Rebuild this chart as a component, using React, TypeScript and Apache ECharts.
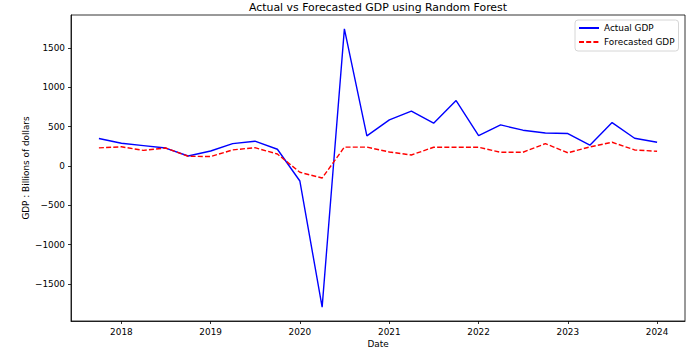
import React, { useEffect, useRef } from "react";
import * as echarts from "echarts";

const dates = [
  "2017-10-01",
  "2018-01-01", "2018-04-01", "2018-07-01", "2018-10-01",
  "2019-01-01", "2019-04-01", "2019-07-01", "2019-10-01",
  "2020-01-01", "2020-04-01", "2020-07-01", "2020-10-01",
  "2021-01-01", "2021-04-01", "2021-07-01", "2021-10-01",
  "2022-01-01", "2022-04-01", "2022-07-01", "2022-10-01",
  "2023-01-01", "2023-04-01", "2023-07-01", "2023-10-01",
  "2024-01-01",
];

const actualGDP = [
  350, 289, 259, 228, 127, 191, 284, 315, 213, -191, -1793, 1742, 382,
  586, 697, 544, 832, 386, 522, 455, 420, 412, 264, 552, 353, 302,
];

const forecastGDP = [
  230, 244, 198, 229, 124, 120, 204, 233, 152, -80, -153, 240, 240,
  178, 140, 238, 238, 238, 174, 174, 284, 168, 242, 302, 204, 187,
];

const yearTicks = ["2018-01-01", "2019-01-01", "2020-01-01", "2021-01-01", "2022-01-01", "2023-01-01", "2024-01-01"];
const yTicks = [-1500, -1000, -500, 0, 500, 1000, 1500];

const FONT = "DejaVu Sans";
const FS = 8.9;

function toTime(s: string): number {
  const [y, m, d] = s.split("-").map(Number);
  return new Date(y, m - 1, d).getTime();
}

export default function App() {
  const ref = useRef<HTMLDivElement>(null);

  useEffect(() => {
    if (!ref.current) return;
    const chart = echarts.init(ref.current, undefined, { renderer: "svg" });

    const times = dates.map(toTime);
    const t0 = times[0];
    const t1 = times[times.length - 1];
    const tPad = (t1 - t0) * 0.05;
    const allVals = actualGDP.concat(forecastGDP);
    const vMin = Math.min(...allVals);
    const vMax = Math.max(...allVals);
    const vPad = (vMax - vMin) * 0.05;
    const xTicks = yearTicks.map(toTime);

    const tickStyle = { show: true, inside: false, length: 3, lineStyle: { color: "#000", width: 0.8 } };

    chart.setOption({
      animation: false,
      backgroundColor: "#fff",
      graphic: [
        {
          type: "text",
          x: 378,
          y: 2,
          style: {
            text: "Actual vs Forecasted GDP using Random Forest",
            fontSize: 10.9,
            fontFamily: FONT,
            fill: "#000",
            align: "center",
            verticalAlign: "top",
          },
        },
      ],
      grid: {
        left: 71,
        right: 15,
        top: 15,
        bottom: 35,
        show: true,
        borderColor: "#000",
        borderWidth: 0.8,
        backgroundColor: "transparent",
      },
      legend: {
        orient: "vertical",
        left: 575,
        top: 20,
        padding: [3, 4, 4, 3],
        itemGap: 4,
        itemWidth: 20,
        itemHeight: 10,
        borderColor: "#d6d6d6",
        borderWidth: 1,
        borderRadius: 3,
        backgroundColor: "rgba(255,255,255,0.8)",
        itemStyle: { opacity: 0 },
        textStyle: { fontSize: FS, fontFamily: FONT, color: "#000", lineHeight: 10 },
        data: ["Actual GDP", "Forecasted GDP"],
      },
      xAxis: {
        type: "value",
        min: t0 - tPad,
        max: t1 + tPad,
        scale: true,
        name: "Date",
        nameLocation: "middle",
        nameGap: 18,
        nameMoveOverlap: false,
        nameTextStyle: { fontSize: FS, fontFamily: FONT, color: "#000" },
        axisLine: { show: true, onZero: false, lineStyle: { color: "#000", width: 0.8 } },
        axisTick: { ...tickStyle, customValues: xTicks },
        splitLine: { show: false },
        axisLabel: {
          customValues: xTicks,
          formatter: (v: number) => String(new Date(v).getFullYear()),
          fontSize: FS,
          fontFamily: FONT,
          color: "#000",
          margin: 6,
          hideOverlap: false,
        },
      },
      yAxis: {
        type: "value",
        min: vMin - vPad,
        max: vMax + vPad,
        name: "GDP : Billions of dollars",
        nameLocation: "middle",
        nameGap: 41,
        nameMoveOverlap: false,
        nameTextStyle: { fontSize: FS, fontFamily: FONT, color: "#000" },
        axisLine: { show: true, onZero: false, lineStyle: { color: "#000", width: 0.8 } },
        axisTick: { ...tickStyle, customValues: yTicks },
        splitLine: { show: false },
        axisLabel: {
          customValues: yTicks,
          formatter: (v: number) => String(v).replace("-", "\u2212"),
          fontSize: FS,
          fontFamily: FONT,
          color: "#000",
          margin: 6,
        },
      },
      series: [
        {
          name: "Actual GDP",
          type: "line",
          data: times.map((t, i) => [t, actualGDP[i]]),
          symbol: "none",
          showSymbol: false,
          lineStyle: { color: "#0000ff", width: 1.4 },
          itemStyle: { color: "#0000ff" },
        },
        {
          name: "Forecasted GDP",
          type: "line",
          data: times.map((t, i) => [t, forecastGDP[i]]),
          symbol: "none",
          showSymbol: false,
          lineStyle: { color: "#ff0000", width: 1.4, type: [5, 2.2] },
          itemStyle: { color: "#ff0000" },
        },
      ],
    });

    return () => chart.dispose();
  }, []);

  return (
    <div
      ref={ref}
      style={{ position: "fixed", left: 0, top: 0, width: 700, height: 356, background: "#fff" }}
    />
  );
}
